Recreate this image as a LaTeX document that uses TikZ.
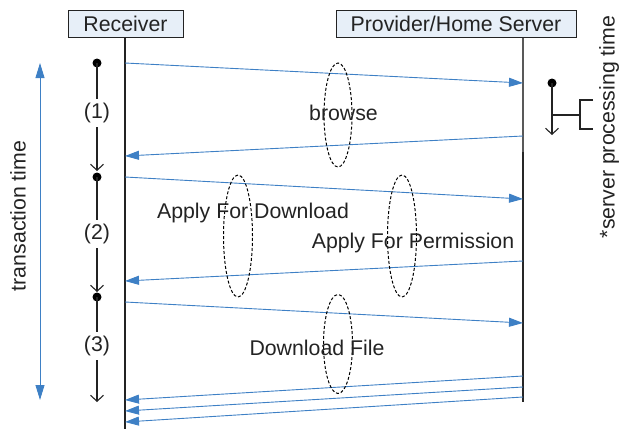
\documentclass[tikz,border=0pt]{standalone}
\usepackage{fontspec}
\setmainfont{Liberation Sans}
\usetikzlibrary{arrows.meta,shapes.geometric}
\definecolor{msgblue}{RGB}{62,128,197}
\definecolor{boxfill}{RGB}{231,239,248}
\definecolor{inkgray}{RGB}{35,35,35}
\tikzset{
  every node/.style={font=\fontsize{21.3}{25}\selectfont, text=inkgray},
  actor/.style={draw=inkgray, fill=boxfill, line width=1pt, minimum height=27pt, inner sep=0pt},
  lifeline/.style={draw=inkgray, line width=1.3pt},
  msg/.style={draw=msgblue, line width=0.9pt, -{Triangle[length=14pt,width=9pt]}},
  phase/.style={draw=black, line width=1pt, dashed, dash pattern=on 3pt off 2pt, ellipse, inner sep=0pt},
  tick/.style={draw=inkgray, line width=1.1pt},
  dotmark/.style={circle, fill=black, inner sep=0pt, minimum size=9pt},
  steplabel/.style={inner sep=0pt, minimum height=28pt},
  barb/.style={-{Straight Barb[length=6pt,width=13pt]}},
}
\begin{document}
\begin{tikzpicture}[x=1pt,y=-1pt]
\useasboundingbox (0,0) rectangle (619,429);
% actors
\node[actor, minimum width=115pt] (recv) at (125.5,23.5) {Receiver};
\node[actor, minimum width=240pt] (prov) at (456,23.5) {Provider/Home Server};
% lifelines
\coordinate (recvEnd) at (125,429);
\coordinate (provMid) at (523,152);
\coordinate (provEnd) at (523,402);
\draw[lifeline] (recv.south -| recvEnd) -- (recvEnd);
\draw[draw=gray!70!black, line width=1.3pt] (prov.south -| provMid) -- (provMid);
\draw[draw=black!85, line width=1.6pt] (provMid) -- (provEnd);
% message coordinates
\coordinate (r1) at (125,63);   \coordinate (p1) at (523,83);
\coordinate (p2) at (523,136);  \coordinate (r2) at (125,156);
\coordinate (r3) at (125,177);  \coordinate (p3) at (523,199);
\coordinate (p4) at (523,261);  \coordinate (r4) at (125,281);
\coordinate (r5) at (125,302);  \coordinate (p5) at (523,323);
\coordinate (p6) at (523,376);  \coordinate (r6) at (125,400);
\coordinate (p7) at (523,387);  \coordinate (r7) at (125,411);
\coordinate (p8) at (523,397);  \coordinate (r8) at (125,422);
\draw[msg] (r1) -- (p1);
\draw[msg] (p2) -- (r2);
\draw[msg] (r3) -- (p3);
\draw[msg] (p4) -- (r4);
\draw[msg] (r5) -- (p5);
\draw[msg] (p6) -- (r6);
\draw[msg] (p7) -- (r7);
\draw[msg] (p8) -- (r8);
% phase ellipses
\node[phase, minimum width=28pt, minimum height=104pt] (eBrowse) at (338,115) {};
\node[phase, minimum width=29pt, minimum height=122pt] (eDown) at (238,236) {};
\node[phase, minimum width=29pt, minimum height=122pt] (ePerm) at (402,236) {};
\node[phase, minimum width=29pt, minimum height=99pt] (eFile) at (338,344) {};
% phase labels
\node (tBrowse) at (343.5,113) {browse};
\node (tDown) at (253,213) {Apply For Download};
\node (tPerm) at (413,243) {Apply For Permission};
\node (tFile) at (317,348) {Download File};
% receiver step timeline
\node[dotmark] (d1) at (97,63) {};
\node[steplabel] (s1) at (97,113) {(1)};
\coordinate (t1) at (97,171);
\node[dotmark] (d2) at (97,177) {};
\node[steplabel] (s2) at (97,234) {(2)};
\coordinate (t2) at (97,292);
\node[dotmark] (d3) at (97,297) {};
\node[steplabel] (s3) at (97,346) {(3)};
\coordinate (t3) at (97,402);
\draw[tick] (d1.center) -- (s1.north);
\draw[tick, barb] (s1.south) -- (t1);
\draw[tick] (d2.center) -- (s2.north);
\draw[tick, barb] (s2.south) -- (t2);
\draw[tick] (d3.center) -- (s3.north);
\draw[tick, barb] (s3.south) -- (t3);
% transaction time
\coordinate (ttTop) at (40,63);
\coordinate (ttBot) at (40,400);
\draw[draw=msgblue, line width=0.9pt, {Triangle[length=15pt,width=9pt]}-{Triangle[length=15pt,width=9pt]}] (ttTop) -- (ttBot);
\node[rotate=90] (ttLabel) at (18,216) {transaction time};
% server processing time
\node[dotmark] (sp) at (552,83) {};
\coordinate (spTip) at (552,135);
\draw[tick, barb] (sp.center) -- (spTip);
\coordinate (spJoin) at (552,115);
\coordinate (brMid) at (580,115);
\draw[tick] (spJoin) -- (brMid);
\coordinate (brTop) at (593,100);
\coordinate (brBot) at (593,129);
\draw[tick] (brTop) -- (brTop -| brMid) -- (brBot -| brMid) -- (brBot);
\node[rotate=90] (spLabel) at (609,127) {*server processing time};
\end{tikzpicture}
\end{document}
